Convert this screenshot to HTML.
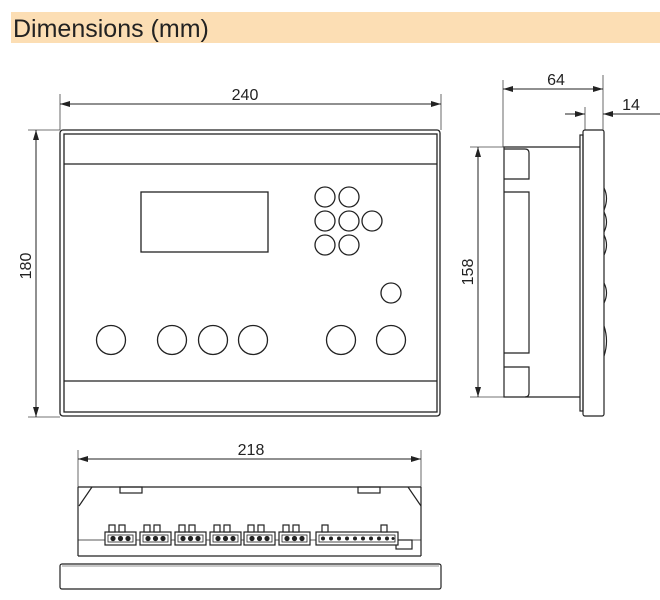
<!DOCTYPE html>
<html><head><meta charset="utf-8"><style>
html,body{margin:0;padding:0;background:#fff;}
svg{display:block;}
text{font-family:"Liberation Sans",sans-serif;fill:#222;}
</style></head><body>
<svg width="660" height="600" viewBox="0 0 660 600" xmlns="http://www.w3.org/2000/svg">
<defs>
<marker id="a" viewBox="0 0 10 6" refX="10" refY="3" markerWidth="10" markerHeight="6" orient="auto-start-reverse" markerUnits="userSpaceOnUse"><path d="M0,0 L10,3 L0,6 z" fill="#222"/></marker>
</defs>
<rect x="11" y="12" width="649" height="31" fill="#fcdeb4"/>
<text x="13" y="37" font-size="25" fill="#222">Dimensions (mm)</text>

<g stroke="#222" fill="none" stroke-width="1.3">
<!-- front view -->
<rect x="60" y="130" width="380" height="286" rx="3"/>
<rect x="64" y="134" width="373" height="278"/>
<line x1="64" y1="164" x2="437" y2="164"/>
<line x1="64" y1="381" x2="437" y2="381"/>
<rect x="141" y="192" width="127" height="60"/>
<circle cx="325" cy="197" r="10"/><circle cx="349" cy="197" r="10"/>
<circle cx="325" cy="221" r="10"/><circle cx="349" cy="221" r="10"/><circle cx="372" cy="221" r="10"/>
<circle cx="325" cy="245" r="10"/><circle cx="349" cy="245" r="10"/>
<circle cx="391" cy="293" r="10"/>
<circle cx="111" cy="340" r="14.5"/><circle cx="172" cy="340" r="14.5"/><circle cx="213" cy="340" r="14.5"/><circle cx="253" cy="340" r="14.5"/><circle cx="341" cy="340" r="14.5"/><circle cx="391" cy="340" r="14.5"/>
</g>
<g stroke="#444" stroke-width="0.8" fill="none">
<line x1="60" y1="94" x2="60" y2="130"/><line x1="441" y1="94" x2="441" y2="130"/>
<line x1="28" y1="130" x2="60" y2="130"/><line x1="28" y1="417" x2="60" y2="417"/>
<line x1="503" y1="80" x2="503" y2="147"/><line x1="603" y1="75" x2="603" y2="130"/><line x1="585" y1="107" x2="585" y2="130"/>
<line x1="470" y1="147" x2="504" y2="147"/><line x1="470" y1="397" x2="504" y2="397"/>
<line x1="78" y1="450" x2="78" y2="487"/><line x1="421" y1="450" x2="421" y2="487"/>
</g>
<g stroke="#222" stroke-width="1">
<line x1="60" y1="104" x2="441" y2="104" marker-start="url(#a)" marker-end="url(#a)"/>
<line x1="36" y1="130" x2="36" y2="417" marker-start="url(#a)" marker-end="url(#a)"/>
<line x1="503" y1="89" x2="603" y2="89" marker-start="url(#a)" marker-end="url(#a)"/>
<line x1="565" y1="114" x2="585" y2="114" marker-end="url(#a)"/>
<line x1="660" y1="114" x2="603" y2="114" marker-end="url(#a)"/>
<line x1="478" y1="147" x2="478" y2="397" marker-start="url(#a)" marker-end="url(#a)"/>
<line x1="78" y1="459" x2="421" y2="459" marker-start="url(#a)" marker-end="url(#a)"/>
</g>
<text x="245" y="100" font-size="16" text-anchor="middle">240</text>
<text x="556" y="85" font-size="16" text-anchor="middle">64</text>
<text x="631" y="110" font-size="16" text-anchor="middle">14</text>
<text x="251" y="455" font-size="16" text-anchor="middle">218</text>
<text transform="translate(31,266) rotate(-90)" font-size="16" text-anchor="middle">180</text>
<text transform="translate(473,272) rotate(-90)" font-size="16" text-anchor="middle">158</text>

<g stroke="#222" fill="none" stroke-width="1.2">
<!-- side view -->
<rect x="583" y="130" width="21" height="286" rx="2"/>
<rect x="580" y="135" width="3" height="276"/>
<polyline points="580,147 504,147 504,397 580,397"/>
<path d="M504,149 H525 Q529,149 529,153 V179 H504"/>
<path d="M504,192 H529 V353 H504"/>
<path d="M504,367 H529 V393 Q529,397 525,397"/>
<path d="M604,188 Q609,198 604,210 M604,212 Q609,222 604,232 M604,235 Q609,245 604,255 M604,283 Q609,293 604,303 M604,326 Q609,341 604,356"/>
<!-- bottom view -->
<line x1="78" y1="487" x2="421" y2="487"/>
<polyline points="92,487 79,506"/><polyline points="408,487 421,506"/>
<line x1="78" y1="487" x2="78" y2="556"/><line x1="421" y1="487" x2="421" y2="556"/>
<rect x="120" y="487" width="22" height="6"/><rect x="358" y="487" width="22" height="6"/>
<line x1="78" y1="540" x2="421" y2="540" stroke-width="0.8"/>
<line x1="78" y1="556" x2="421" y2="556"/>
<rect x="60" y="564" width="381" height="25" rx="2"/>
<line x1="62" y1="566" x2="439" y2="566" stroke-width="0.6"/>
<rect x="396" y="540" width="16" height="9"/>
</g>
<g stroke="#222" fill="#fff" stroke-width="1.2">
<g id="c3">
<rect x="105" y="532" width="31" height="13"/>
<rect x="109" y="525" width="6" height="7"/><rect x="119" y="525" width="6" height="7"/>
<rect x="108" y="535" width="25" height="7" fill="none" stroke-width="0.8"/>
<circle cx="113" cy="538.5" r="2" fill="#222"/><circle cx="120.5" cy="538.5" r="2" fill="#222"/><circle cx="128" cy="538.5" r="2" fill="#222"/>
</g>
<use href="#c3" x="35"/><use href="#c3" x="70"/><use href="#c3" x="105"/><use href="#c3" x="139"/><use href="#c3" x="174"/>
<rect x="316" y="532" width="82" height="13"/>
<rect x="322" y="525" width="6" height="7"/><rect x="381" y="525" width="6" height="7"/>
<rect x="319" y="535" width="76" height="7" fill="none" stroke-width="0.8"/>
<g fill="#222" stroke="none">
<circle cx="323" cy="538.5" r="2"/><circle cx="331" cy="538.5" r="2"/><circle cx="339" cy="538.5" r="2"/><circle cx="347" cy="538.5" r="2"/><circle cx="355" cy="538.5" r="2"/><circle cx="363" cy="538.5" r="2"/><circle cx="371" cy="538.5" r="2"/><circle cx="379" cy="538.5" r="2"/><circle cx="387" cy="538.5" r="2"/><circle cx="393" cy="538.5" r="1.5"/>
</g>
</g>
</svg>
</body></html>
